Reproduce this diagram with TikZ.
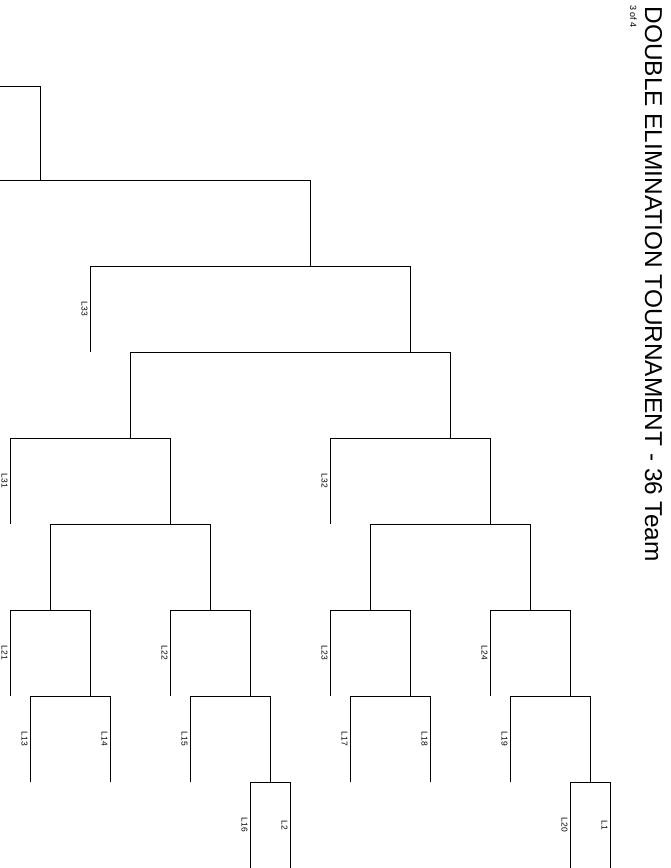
\documentclass[tikz,border=0pt]{standalone}
\usepackage{fontspec}
\setmainfont{Liberation Sans}

\begin{document}
\begin{tikzpicture}[x=1bp,y=-1bp,line width=1bp,
    lbl/.style={rotate=-90,anchor=north,inner sep=0pt,font=\fontsize{8.5}{9}\selectfont},
    ttl/.style={rotate=-90,anchor=base west,inner sep=0pt}]

    \useasboundingbox (0,0) rectangle (671,868);

    \node[ttl,font=\fontsize{24.5}{30}\selectfont] (title) at (645,6) {DOUBLE ELIMINATION TOURNAMENT - 36 Team};
    \node[ttl,font=\fontsize{9}{10}\selectfont] (page) at (630,5) {3 of 4};

    \draw (0,86) -- (40,86) -- (40,180);
    \draw (0,180) -- (310,180) -- (310,266);

    \draw (90,352) -- (90,266) -- (410,266) -- (410,352);
    \node[lbl] (l33) at (88,309) {L33};

    \draw (130,438) -- (130,352) -- (450,352) -- (450,438);

    \draw (10,524) -- (10,438) -- (170,438) -- (170,524);
    \node[lbl] (l31) at (8,481) {L31};
    \draw (330,524) -- (330,438) -- (490,438) -- (490,524);
    \node[lbl] (l32) at (328,481) {L32};

    \draw (50,610) -- (50,524) -- (210,524) -- (210,610);
    \draw (370,610) -- (370,524) -- (530,524) -- (530,610);

    \draw (10,696) -- (10,610) -- (90,610) -- (90,696);
    \node[lbl] (l21) at (8,653) {L21};
    \draw (170,696) -- (170,610) -- (250,610) -- (250,696);
    \node[lbl] (l22) at (168,653) {L22};
    \draw (330,696) -- (330,610) -- (410,610) -- (410,696);
    \node[lbl] (l23) at (328,653) {L23};
    \draw (490,696) -- (490,610) -- (570,610) -- (570,696);
    \node[lbl] (l24) at (488,653) {L24};

    \draw (30,782) -- (30,696) -- (110,696) -- (110,782);
    \node[lbl] (l13) at (28,739) {L13};
    \node[lbl] (l14) at (108,739) {L14};
    \draw (190,782) -- (190,696) -- (270,696) -- (270,782);
    \node[lbl] (l15) at (188,739) {L15};
    \draw (350,782) -- (350,696) -- (430,696) -- (430,782);
    \node[lbl] (l17) at (348,739) {L17};
    \node[lbl] (l18) at (428,739) {L18};
    \draw (510,782) -- (510,696) -- (590,696) -- (590,782);
    \node[lbl] (l19) at (508,739) {L19};

    \draw (250,868) -- (250,782) -- (290,782) -- (290,868);
    \node[lbl] (l16) at (248,825) {L16};
    \node[lbl] (l2) at (288,825) {L2};
    \draw (570,868) -- (570,782) -- (610,782) -- (610,868);
    \node[lbl] (l20) at (568,825) {L20};
    \node[lbl] (l1) at (608,825) {L1};

\end{tikzpicture}
\end{document}
